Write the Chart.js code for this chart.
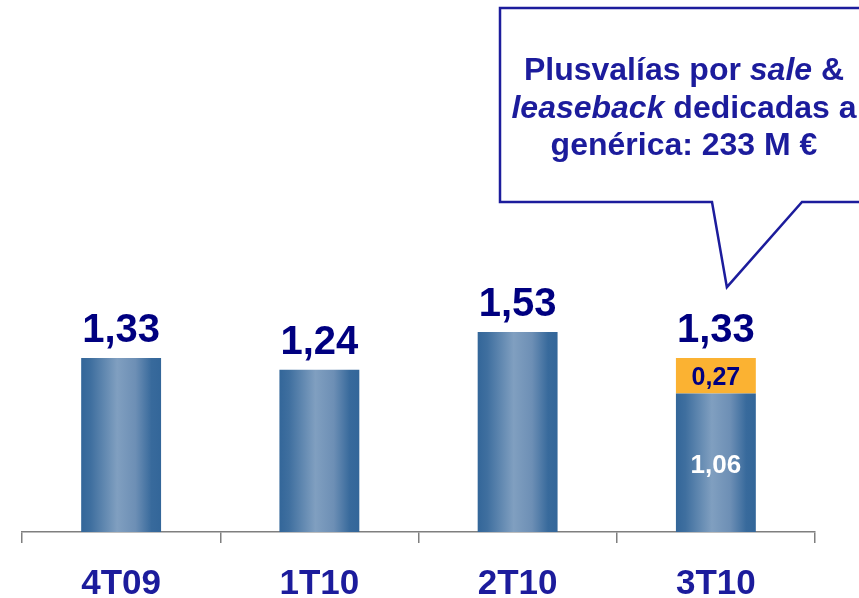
<!DOCTYPE html>
<html>
<head>
<meta charset="utf-8">
<title>Margen</title>
<script src="https://cdn.jsdelivr.net/npm/chart.js@4.4.0/dist/chart.umd.min.js"></script>
<style>
    html, body { margin: 0; padding: 0; background: #ffffff; }
    #graph { display: block; }
</style>
</head>
<body>
<canvas id="graph" width="859" height="598"></canvas>
<script>
/** données du graphe */
const trimestres = [ '4T09', '1T10', '2T10', '3T10' ]
const margenBase = [ 1.33, 1.24, 1.53, 1.06 ]
const plusvalias = [ 0, 0, 0, 0.27 ]

// texte de la bulle : chaque ligne = liste de [texte, italique]
const bulleLignes = [
    [ [ 'Plusvalías por ', false ], [ 'sale', true ], [ ' &', false ] ],
    [ [ 'leaseback', true ], [ ' dedicadas a', false ] ],
    [ [ 'genérica: 233 M €', false ] ]
]

const POLICE = "Arial, 'Liberation Sans', sans-serif"
const BLEU_TEXTE = '#1c1c9c'
const BLEU_VALEUR = '#000080'
const ORANGE = '#fbb232'
const LARGEUR_BARRE = 0.403

const fmt = v => v.toFixed( 2 ).replace( '.', ',' )

/** dégradé horizontal de chaque barre */
function degrade( ctx ) {
    const chart = ctx.chart
    if ( !chart.chartArea ) return '#336699'
    const xs = chart.scales.x
    const cx = xs.getPixelForValue( ctx.dataIndex )
    const w = ( xs.width / trimestres.length ) * LARGEUR_BARRE
    const g = chart.ctx.createLinearGradient( cx - w / 2, 0, cx + w / 2, 0 )
    g.addColorStop( 0, '#336699' )
    g.addColorStop( 0.12, '#3f6f9f' )
    g.addColorStop( 0.45, '#809fc0' )
    g.addColorStop( 0.68, '#6d8fb5' )
    g.addColorStop( 0.88, '#386a9c' )
    g.addColorStop( 1, '#336699' )
    return g
}

/** étiquettes : totaux au-dessus, valeurs dans les segments */
const etiquettes = {
    id: 'etiquettes',
    afterDatasetsDraw( chart ) {
        const c = chart.ctx
        const base = chart.getDatasetMeta( 0 ).data
        const haut = chart.getDatasetMeta( 1 ).data
        c.save()
        c.textAlign = 'center'
        for ( let i = 0; i < trimestres.length; i++ ) {
            const total = margenBase[ i ] + plusvalias[ i ]
            const yTop = chart.scales.y.getPixelForValue( total )
            c.font = 'bold 40px ' + POLICE
            c.fillStyle = BLEU_VALEUR
            c.textBaseline = 'alphabetic'
            c.fillText( fmt( total ), base[ i ].x, yTop - 16 )

            if ( plusvalias[ i ] > 0 ) {
                c.textBaseline = 'middle'
                c.font = 'bold 25px ' + POLICE
                c.fillStyle = BLEU_VALEUR
                const h = haut[ i ]
                c.fillText( fmt( plusvalias[ i ] ), h.x, ( h.y + h.base ) / 2 + 2 )
                const b = base[ i ]
                c.fillStyle = '#ffffff'
                c.font = 'bold 26px ' + POLICE
                c.fillText( fmt( margenBase[ i ] ), b.x, ( b.y + b.base ) / 2 + 3 )
            }
        }
        c.restore()
    }
}

/** bulle de commentaire pointant vers le dernier trimestre */
const bulle = {
    id: 'bulle',
    afterDraw( chart ) {
        const c = chart.ctx
        const barre = chart.getDatasetMeta( 0 ).data[ 3 ]
        const total = margenBase[ 3 ] + plusvalias[ 3 ]
        const tipX = barre.x + 11
        const tipY = chart.scales.y.getPixelForValue( total ) - 71
        const gauche = 500, haut = 8, bas = 202

        c.save()
        c.beginPath()
        c.moveTo( gauche, haut )
        c.lineTo( 880, haut )
        c.lineTo( 880, bas )
        c.lineTo( 802, bas )
        c.lineTo( tipX, tipY )
        c.lineTo( 712, bas )
        c.lineTo( gauche, bas )
        c.closePath()
        c.fillStyle = '#ffffff'
        c.fill()
        c.lineWidth = 2.5
        c.strokeStyle = BLEU_TEXTE
        c.stroke()

        // texte centré, avec passages en italique
        c.fillStyle = BLEU_TEXTE
        c.textBaseline = 'alphabetic'
        c.textAlign = 'left'
        const centre = 684
        bulleLignes.forEach( ( ligne, n ) => {
            let largeur = 0
            ligne.forEach( ( [ t, it ] ) => {
                c.font = ( it ? 'italic ' : '' ) + 'bold 32px ' + POLICE
                largeur += c.measureText( t ).width
            } )
            let x = centre - largeur / 2
            ligne.forEach( ( [ t, it ] ) => {
                c.font = ( it ? 'italic ' : '' ) + 'bold 32px ' + POLICE
                c.fillText( t, x, 80 + n * 37.5 )
                x += c.measureText( t ).width
            } )
        } )
        c.restore()
    }
}

const chart = new Chart( document.getElementById( 'graph' ), {
    type: 'bar',
    data: {
        labels: trimestres,
        datasets: [
            {
                label: 'Margen',
                data: margenBase,
                backgroundColor: degrade,
                borderWidth: 0,
                categoryPercentage: 1,
                barPercentage: LARGEUR_BARRE
            },
            {
                label: 'Plusvalías',
                data: plusvalias,
                backgroundColor: ORANGE,
                borderWidth: 0,
                categoryPercentage: 1,
                barPercentage: LARGEUR_BARRE
            }
        ]
    },
    options: {
        responsive: false,
        animation: false,
        devicePixelRatio: 1,
        layout: { padding: { top: 9, left: 22, right: 44, bottom: 0 } },
        plugins: {
            legend: { display: false },
            tooltip: { enabled: false }
        },
        scales: {
            x: {
                stacked: true,
                // hauteur fixe de l'axe : zone du graphe jusqu'à y = 532
                afterFit: scale => { scale.height = 66 },
                grid: {
                    display: true,
                    drawOnChartArea: false,
                    drawTicks: true,
                    tickLength: 11,
                    color: '#7f7f7f',
                    lineWidth: 1.5,
                    offset: true
                },
                border: { display: true, color: '#7f7f7f', width: 1.5 },
                ticks: {
                    color: BLEU_TEXTE,
                    font: { family: POLICE, size: 35, weight: 'bold' },
                    padding: 20,
                    maxRotation: 0
                }
            },
            y: {
                stacked: true,
                display: false,
                min: 0,
                max: 4
            }
        }
    },
    plugins: [ etiquettes, bulle ]
} )
</script>
</body>
</html>
